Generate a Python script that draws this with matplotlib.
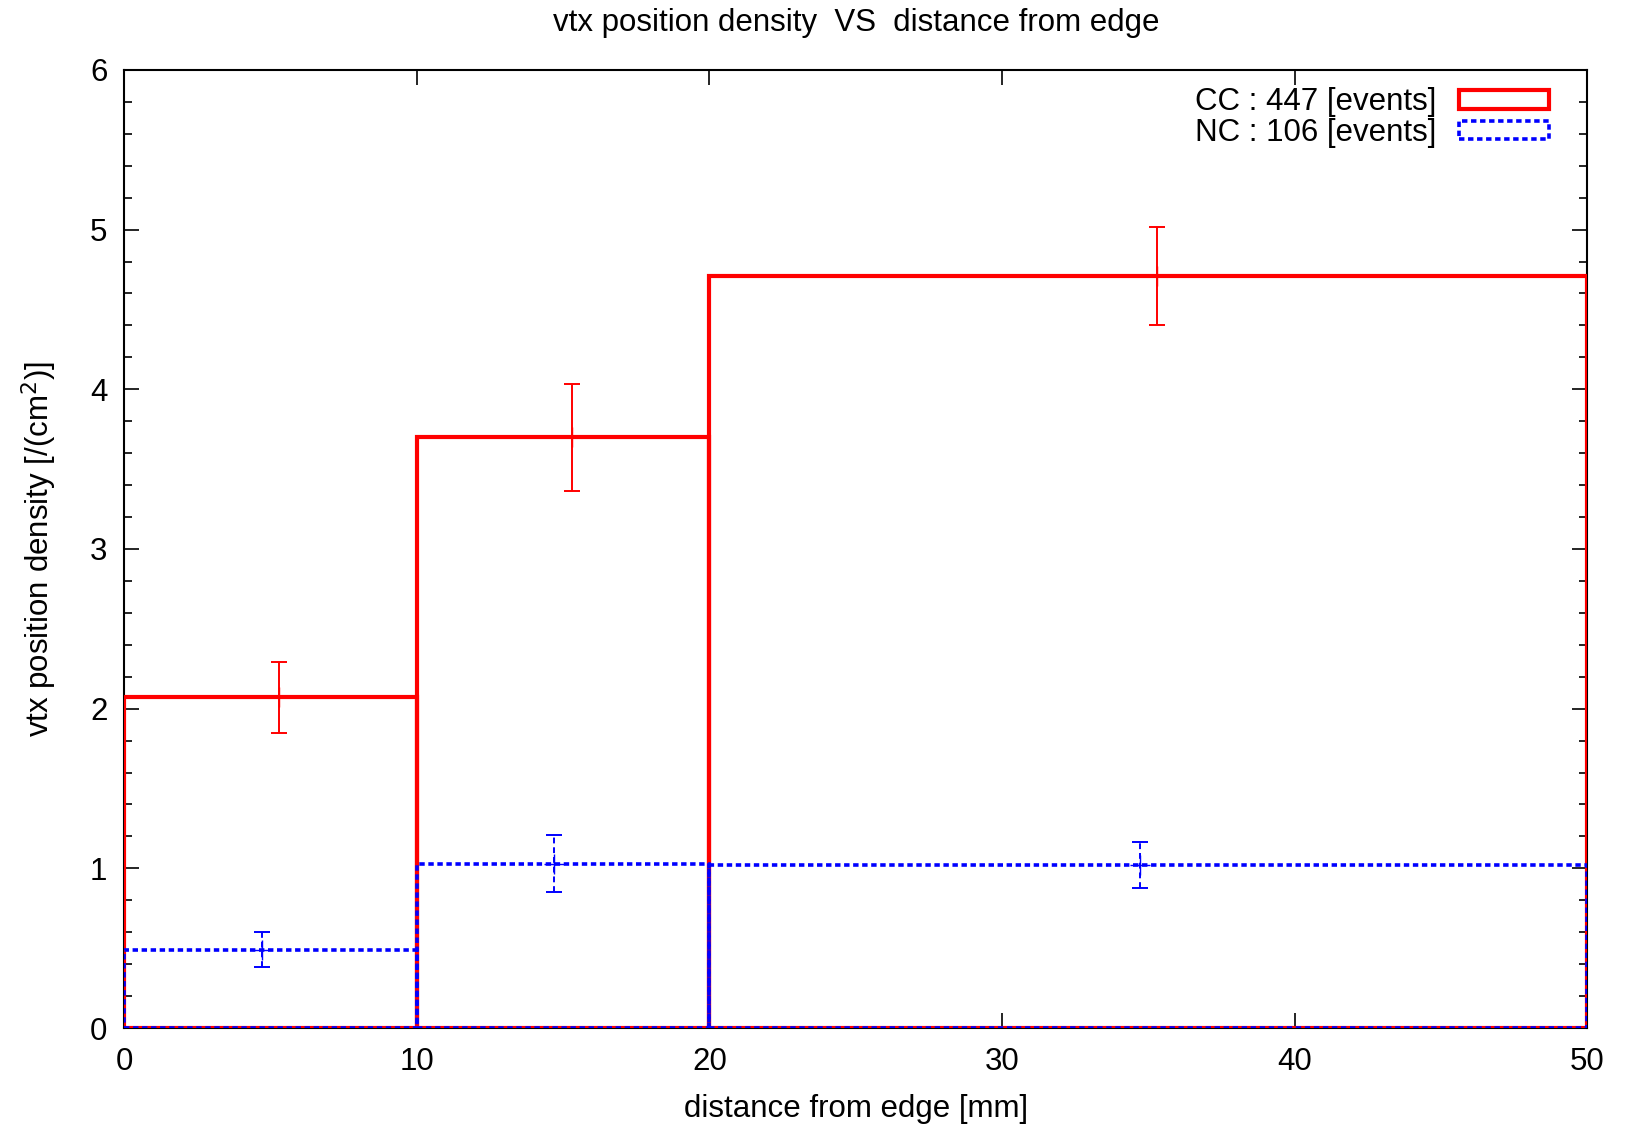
import matplotlib
matplotlib.use("Agg")
import matplotlib.pyplot as plt
from matplotlib.patches import Patch
from matplotlib.ticker import MultipleLocator

plt.rcParams['font.family'] = ['Liberation Sans', 'DejaVu Sans']

# Data
bin_edges = [0, 10, 20, 50]
cc_values = [2.07, 3.70, 4.71]
cc_err_x = [5.3, 15.3, 35.3]
cc_err = [0.225, 0.335, 0.305]
nc_values = [0.49, 1.03, 1.02]
nc_err_x = [4.7, 14.7, 34.7]
nc_err = [0.11, 0.18, 0.145]
cc_label = "CC : 447 [events]"
nc_label = "NC : 106 [events]"

FS = 22.5

fig = plt.figure(figsize=(16.26, 11.27), dpi=100)
ax = fig.add_axes([0.0763, 0.0878, 0.9000, 0.8502])

lefts = bin_edges[:-1]
widths = [b - a for a, b in zip(bin_edges[:-1], bin_edges[1:])]

ax.bar(lefts, cc_values, width=widths, align='edge', fill=False,
       edgecolor='#ff0000', linewidth=3.0, zorder=3)
ax.bar(lefts, nc_values, width=widths, align='edge', fill=False,
       edgecolor='#0000ff', linewidth=2.6, linestyle=(0, (1.5, 1.0)), zorder=4)

eb = ax.errorbar(cc_err_x, cc_values, yerr=cc_err, fmt='+', color='#ff0000',
                 markersize=14, elinewidth=1.4, capsize=6, capthick=1.4, zorder=5)
eb2 = ax.errorbar(nc_err_x, nc_values, yerr=nc_err, fmt='+', color='#0000ff',
                  markersize=14, elinewidth=1.4, capsize=6, capthick=1.4, zorder=5)
for coll in eb2[2]:
    coll.set_linestyle((0, (3, 2)))

ax.set_xlim(0, 50)
ax.set_ylim(0, 6)
ax.xaxis.set_major_locator(MultipleLocator(10))
ax.yaxis.set_major_locator(MultipleLocator(1))
ax.yaxis.set_minor_locator(MultipleLocator(0.2))
ax.tick_params(which='both', direction='in', top=True, right=True, colors='black')
ax.tick_params(which='major', length=11, width=1.2, labelsize=FS)
ax.tick_params(axis='x', which='major', pad=14)
ax.tick_params(axis='y', which='major', pad=12)
ax.tick_params(which='minor', length=6, width=1.2)
for s in ax.spines.values():
    s.set_linewidth(1.5)

ax.set_title("vtx position density  VS  distance from edge", fontsize=FS, pad=28)
ax.set_xlabel("distance from edge [mm]", fontsize=FS, labelpad=12)
ax.set_ylabel("vtx position density [/(cm$^2$)]", fontsize=FS, labelpad=22)

handles = [Patch(facecolor='none', edgecolor='#ff0000', linewidth=3.0),
           Patch(facecolor='none', edgecolor='#0000ff', linewidth=2.6, linestyle=(0, (1.5, 1.0)))]
ax.legend(handles, [cc_label, nc_label], loc='upper right', frameon=False,
          markerfirst=False, fontsize=FS, handlelength=2.9, handleheight=0.55,
          handletextpad=0.7, labelspacing=0.02, borderpad=0,
          bbox_to_anchor=(0.9845, 0.998))

fig.savefig("out.png", dpi=100)
